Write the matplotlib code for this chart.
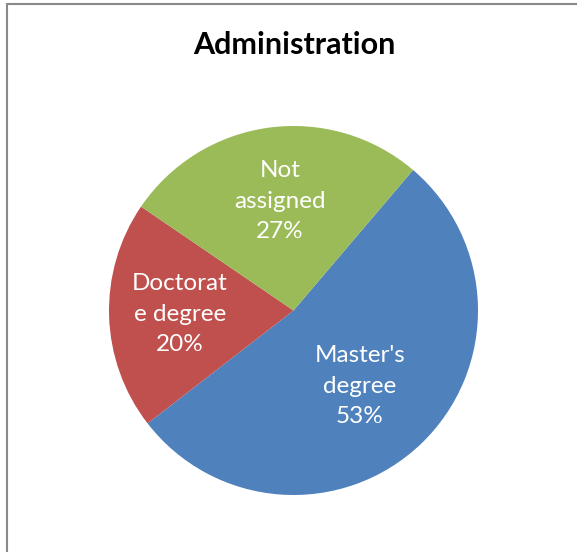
import matplotlib.pyplot as plt
from matplotlib.patches import Rectangle

plt.rcParams["font.family"] = ["Lato", "DejaVu Sans"]

categories = ["Master's\ndegree", "Doctorat\ne degree", "Not\nassigned"]
shares = [53.3, 20.0, 26.7]
colors = ["#4F81BD", "#C0504D", "#9BBB59"]
title = "Administration"

# label spots (data coords, pie radius = 1)
label_xy = [(0.36, -0.41), (-0.615, -0.02), (-0.073, 0.593)]

W, H = 577, 552
fig = plt.figure(figsize=(W / 100, H / 100), dpi=100)

# chart area frame (only left & top visible in the crop)
frame = Rectangle((6.5 / W, -0.1), 1.2, (H - 3.5) / H + 0.1, transform=fig.transFigure,
                  fill=False, edgecolor="#898989", linewidth=1.5)
fig.patches.append(frame)

cx, cy, r = 293.5, 310.5, 184.5
ax = fig.add_axes([(cx - r) / W, (H - cy - r) / H, 2 * r / W, 2 * r / H])
ax.pie(shares, colors=colors, startangle=49.6, counterclock=False,
       radius=1, wedgeprops=dict(linewidth=0))
ax.set_xlim(-1, 1)
ax.set_ylim(-1, 1)
ax.set_aspect("equal")
ax.axis("off")

for name, val, (x, y) in zip(categories, shares, label_xy):
    ax.text(x, y, f"{name}\n{val:.0f}%", ha="center", va="center", color="white",
            fontsize=17.5, linespacing=1.55)

fig.text(294 / W, 1 - 54 / H, title, ha="center", va="baseline",
         fontsize=22, fontweight="bold")

fig.savefig("out.png", dpi=100)
